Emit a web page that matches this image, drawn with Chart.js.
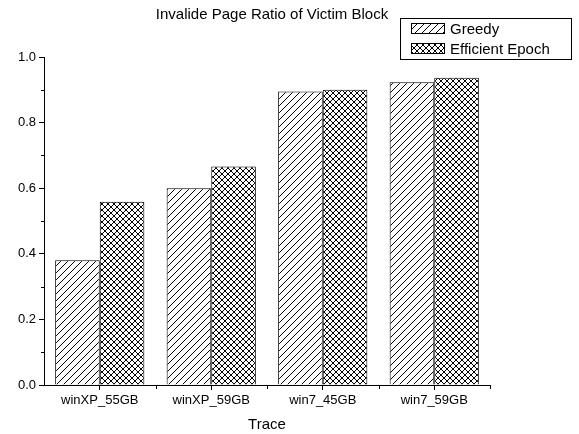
<!DOCTYPE html>
<html><head><meta charset="utf-8">
<script src="https://cdn.jsdelivr.net/npm/chart.js@4"></script>
<style>html,body{margin:0;padding:0;background:#fff}#wrap{width:579px;height:434px;position:relative}</style>
</head><body><div id="wrap"><canvas id="c" width="579" height="434"></canvas></div>
<script>
const categories = ['winXP_55GB', 'winXP_59GB', 'win7_45GB', 'win7_59GB'];
const seriesNames = ['Greedy', 'Efficient Epoch'];
const greedyValues = [0.38, 0.60, 0.895, 0.923];
const epochValues = [0.559, 0.666, 0.900, 0.937];
const yTickValues = [0.0, 0.2, 0.4, 0.6, 0.8, 1.0];
const yMinorTickValues = [0.1, 0.3, 0.5, 0.7, 0.9];
const chartTitle = 'Invalide Page Ratio of Victim Block';
const xAxisTitle = 'Trace';

const FONT = '"Liberation Sans", Arial, sans-serif';

function makePattern(size, cross) {
  const c = document.createElement('canvas');
  c.width = size; c.height = size;
  const g = c.getContext('2d');
  g.fillStyle = '#fff'; g.fillRect(0, 0, size, size);
  g.strokeStyle = '#000'; g.lineWidth = 1;
  g.beginPath();
  // "/" lines
  g.moveTo(-1, size + 1); g.lineTo(size + 1, -1);
  g.moveTo(-1, 1); g.lineTo(1, -1);
  g.moveTo(size - 1, size + 1); g.lineTo(size + 1, size - 1);
  if (cross) {
    g.moveTo(-1, -1); g.lineTo(size + 1, size + 1);
    g.moveTo(size - 1, -1); g.lineTo(size + 1, 1);
    g.moveTo(-1, size - 1); g.lineTo(1, size + 1);
  }
  g.stroke();
  return g.createPattern(c, 'repeat');
}
const ctx0 = document.getElementById('c').getContext('2d');
const greedyFill = makePattern(7, false);
const epochFill = makePattern(6, true);

const decorPlugin = {
  id: 'decor',
  afterDraw(chart) {
    const ctx = chart.ctx;
    const xs = chart.scales.x, ys = chart.scales.y;
    ctx.save();
    ctx.strokeStyle = '#000'; ctx.lineWidth = 1;
    // minor y ticks
    ctx.beginPath();
    yMinorTickValues.forEach(v => {
      const y = Math.round(ys.getPixelForValue(v)) + 0.5;
      ctx.moveTo(xs.left - 3, y); ctx.lineTo(xs.left, y);
    });
    // minor x ticks at category boundaries
    const step = xs.getPixelForValue(1) - xs.getPixelForValue(0);
    categories.forEach((c, i) => {
      const x = Math.round(xs.getPixelForValue(i) + step / 2) + 0.5;
      ctx.moveTo(x, ys.bottom); ctx.lineTo(x, ys.bottom + 4);
    });
    ctx.stroke();
    // title
    ctx.fillStyle = '#000';
    ctx.font = '15px ' + FONT;
    ctx.textAlign = 'center'; ctx.textBaseline = 'alphabetic';
    ctx.fillText(chartTitle, 272, 19);
    // legend
    ctx.strokeRect(400.5, 18.5, 171, 41);
    chart.data.datasets.forEach((ds, i) => {
      const y = 23 + i * 20;
      ctx.fillStyle = ds.backgroundColor;
      ctx.fillRect(411, y, 34, 11);
      ctx.strokeRect(411.5, y + 0.5, 33, 10);
      ctx.fillStyle = '#000';
      ctx.textAlign = 'left';
      ctx.fillText(ds.label, 450, y + 11);
    });
    ctx.restore();
  }
};

new Chart(ctx0, {
  type: 'bar',
  data: {
    labels: categories,
    datasets: [
      { label: seriesNames[0], data: greedyValues, backgroundColor: greedyFill, borderColor: '#000', borderWidth: 1 },
      { label: seriesNames[1], data: epochValues, backgroundColor: epochFill, borderColor: '#000', borderWidth: 1 }
    ]
  },
  options: {
    responsive: false,
    animation: false,
    devicePixelRatio: 1,
    categoryPercentage: 0.8,
    barPercentage: 1.0,
    layout: { padding: { left: 0, right: 89, top: 57, bottom: 0 } },
    plugins: { legend: { display: false }, title: { display: false }, tooltip: { enabled: false } },
    scales: {
      x: {
        offset: true,
        grid: { display: true, offset: false, drawOnChartArea: false, drawTicks: true, tickLength: 5, color: '#000', tickColor: '#000' },
        border: { display: true, color: '#000', width: 1 },
        ticks: { color: '#000', font: { family: FONT, size: 13 }, padding: 3, maxRotation: 0, autoSkip: false },
        title: { display: true, text: xAxisTitle, color: '#000', font: { family: FONT, size: 15 }, padding: { top: 0, bottom: 0 } },
        afterFit(s) { s.height = 49; }
      },
      y: {
        min: 0, max: 1,
        grid: { display: true, drawOnChartArea: false, drawTicks: true, tickLength: 5, color: '#000', tickColor: '#000' },
        border: { display: true, color: '#000', width: 1 },
        ticks: { color: '#000', font: { family: FONT, size: 13 }, padding: 3, callback: v => Number(v).toFixed(1) },
        afterBuildTicks(s) { s.ticks = yTickValues.map(v => ({ value: v })); },
        afterFit(s) { s.width = 44; }
      }
    }
  },
  plugins: [decorPlugin]
});
</script></body></html>
